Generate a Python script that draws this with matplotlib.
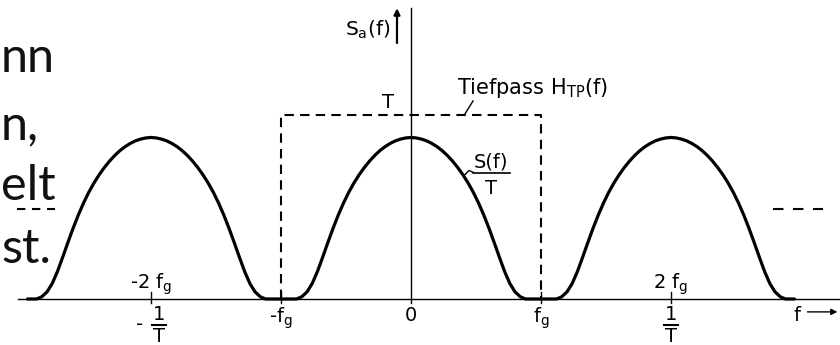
import matplotlib.pyplot as plt
import numpy as np

# half-lobe profile of S(f)/T, f in units of f_g
lobe_f = [0.00, 0.04, 0.08, 0.12, 0.16, 0.20, 0.24, 0.28, 0.32, 0.36, 0.40, 0.44,
          0.48, 0.52, 0.56, 0.60, 0.64, 0.68, 0.72, 0.76, 0.80, 0.84, 0.88]
lobe_s = [1.000, 0.997, 0.990, 0.979, 0.963, 0.943, 0.918, 0.888, 0.853, 0.813, 0.768, 0.717,
          0.659, 0.593, 0.519, 0.437, 0.349, 0.258, 0.170, 0.096, 0.044, 0.014, 0.000]
lobe_centers = [-2, 0, 2]
curve_span = (-2.95, 2.95)

# ideal lowpass H_TP(f)
lowpass_edge = 1.0
lowpass_gain = 1.14

tick_pos = [-2, -1, 1, 2]
upper_labels = {-2: '-2 $\\mathregular{f_g}$', 2: '2 $\\mathregular{f_g}$'}
lower_labels = {-1: '-$\\mathregular{f_g}$', 1: '$\\mathregular{f_g}$'}
period_pos = [-2, 2]

slide_lines = ["nn", "n,", "elt", "st."]

# build the periodic spectrum S_a(f)
half_f = np.array(lobe_f)
half_s = np.array(lobe_s)
shape_f = np.concatenate([-half_f[::-1], half_f[1:]])
shape_s = np.concatenate([half_s[::-1], half_s[1:]])
xs = [curve_span[0]]
ys = [0.0]
for c in lobe_centers:
    xs.extend(c + shape_f)
    ys.extend(shape_s)
xs.append(curve_span[1])
ys.append(0.0)

fig = plt.figure(figsize=(8.4, 3.45), dpi=100)
ax = fig.add_axes([0, 0, 1, 1])
ax.set_xlim(-3.162, 3.300)
ax.set_ylim(-0.285, 1.851)
ax.axis('off')

fs = 14
k = 'black'

# axes
ax.plot([-3.02, 3.30], [0, 0], color=k, lw=1.0)
ax.plot([0, 0], [-0.025, 1.80], color=k, lw=1.0)
for t in tick_pos:
    ax.plot([t, t], [-0.025, 0.043], color=k, lw=1.0)

# spectrum and lowpass
ax.plot(xs, ys, color=k, lw=2.3, solid_capstyle='round', solid_joinstyle='round')
ax.plot([-lowpass_edge, -lowpass_edge, lowpass_edge, lowpass_edge],
        [0, lowpass_gain, lowpass_gain, 0], color=k, lw=1.5, ls=(0, (4.5, 3)))

# continuation marks
ax.plot([-3.03, -2.74], [0.56, 0.56], color=k, lw=1.5, ls=(0, (4.0, 3.2)))
ax.plot([2.785, 3.17], [0.557, 0.557], color=k, lw=1.5, ls=(0, (5.0, 4.6)))

# y label with arrow
ax.text(-0.16, 1.666, r'$\mathregular{S_a(f)}$', ha='right', va='center', fontsize=14.5)
ax.annotate('', xy=(-0.108, 1.80), xytext=(-0.108, 1.585),
            arrowprops=dict(arrowstyle='-|>', color=k, lw=1.6, mutation_scale=9,
                            shrinkA=0, shrinkB=0))

ax.text(-0.177, 1.214, 'T', ha='center', va='center', fontsize=fs)
ax.text(0.354, 1.306, r'Tiefpass $\mathregular{H_{TP}(f)}$', ha='left', va='center', fontsize=15)
ax.plot([0.477, 0.415], [1.226, 1.146], color=k, lw=1.0)

# S(f)/T label
ax.text(0.615, 0.848, 'S(f)', ha='center', va='center', fontsize=fs)
ax.plot([0.477, 0.762], [0.780, 0.780], color=k, lw=1.2)
ax.text(0.615, 0.687, 'T', ha='center', va='center', fontsize=fs)
ax.plot([0.415, 0.445, 0.477], [0.77, 0.795, 0.785], color=k, lw=1.0)

# tick labels
for t, lab in upper_labels.items():
    ax.text(t, 0.092, lab, ha='center', va='center', fontsize=fs)
for t, lab in lower_labels.items():
    ax.text(t, -0.118, lab, ha='center', va='center', fontsize=fs)
ax.text(0, -0.10, '0', ha='center', va='center', fontsize=fs)

# 1/T fractions under the +-2 f_g ticks
for t in period_pos:
    cx = t + 0.06 if t < 0 else t
    if t < 0:
        ax.text(t - 0.085, -0.155, '-', ha='center', va='center', fontsize=fs)
    ax.text(cx, -0.099, '1', ha='center', va='center', fontsize=fs)
    ax.plot([cx - 0.055, cx + 0.055], [-0.161, -0.161], color=k, lw=1.5)
    ax.text(cx, -0.235, 'T', ha='center', va='center', fontsize=fs)

# f axis name and arrow
ax.text(2.97, -0.10, 'f', ha='center', va='center', fontsize=fs)
ax.annotate('', xy=(3.28, -0.08), xytext=(3.05, -0.08),
            arrowprops=dict(arrowstyle='-|>', color=k, lw=1.0, mutation_scale=9,
                            shrinkA=0, shrinkB=0))

# slide text fragments at the left margin
slide_base = [1.406, 0.985, 0.613, 0.223]
for txt, yb in zip(slide_lines, slide_base):
    ax.text(-3.154, yb, txt, ha='left', va='baseline', fontsize=35,
            family=['Liberation Sans Narrow', 'Lato', 'DejaVu Sans'], color='#111111')

fig.savefig('out.png', dpi=100)
